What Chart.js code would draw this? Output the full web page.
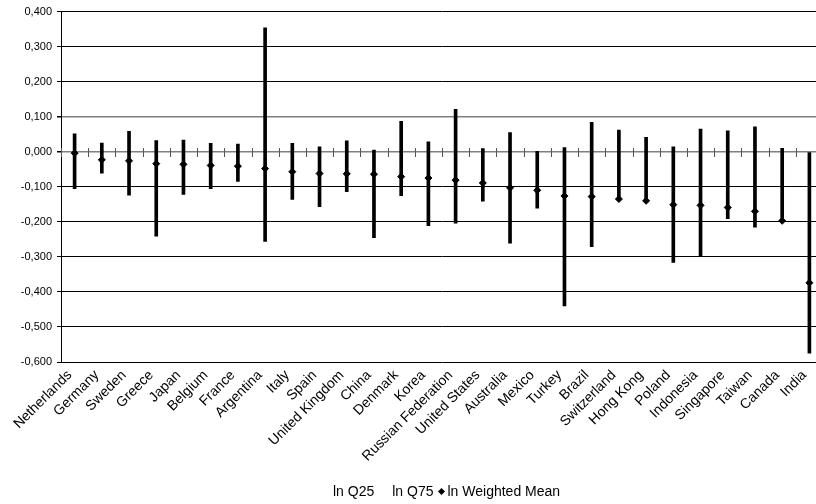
<!DOCTYPE html>
<html>
<head>
<meta charset="utf-8">
<script src="https://cdn.jsdelivr.net/npm/chart.js@4/dist/chart.umd.min.js"></script>
<style>
  html, body { margin: 0; padding: 0; background: #fff; overflow: hidden; }
  #wrap { position: relative; width: 830px; height: 504px; }
  #legend {
    position: absolute; left: 333px; top: 483px;
    font: 14px "Liberation Sans", Arial, sans-serif; color: #000;
    display: flex; align-items: center; white-space: nowrap;
  }
  #legend .dia {
    display: inline-block; width: 5px; height: 5px; background: #000;
    transform: rotate(45deg); margin: 0 4px 0 5px;
  }
</style>
</head>
<body>
<div id="wrap">
  <canvas id="chart" width="830" height="504"></canvas>
  <div id="legend">
    <span>ln Q25</span>
    <span style="margin-left:18px">ln Q75</span>
    <span class="dia"></span>
    <span>ln Weighted Mean</span>
  </div>
</div>
<script>
// Categories and series
const countries = ['Netherlands', 'Germany', 'Sweden', 'Greece', 'Japan', 'Belgium', 'France',
    'Argentina', 'Italy', 'Spain', 'United Kingdom', 'China', 'Denmark', 'Korea',
    'Russian Federation', 'United States', 'Australia', 'Mexico', 'Turkey', 'Brazil',
    'Switzerland', 'Hong Kong', 'Poland', 'Indonesia', 'Singapore', 'Taiwan', 'Canada', 'India'];

const lnQ25 = [-0.105, -0.061, -0.124, -0.241, -0.122, -0.105, -0.085, -0.256, -0.136, -0.157,
    -0.114, -0.245, -0.125, -0.211, -0.204, -0.141, -0.261, -0.161, -0.440, -0.271,
    -0.135, -0.141, -0.316, -0.299, -0.191, -0.215, -0.198, -0.575];

const lnQ75 = [0.051, 0.025, 0.058, 0.032, 0.033, 0.024, 0.022, 0.354, 0.024, 0.014,
    0.031, 0.005, 0.087, 0.028, 0.121, 0.009, 0.055, 0.001, 0.012, 0.084,
    0.062, 0.041, 0.014, 0.065, 0.060, 0.071, 0.010, 0.000];

const lnMean = [-0.004, -0.023, -0.026, -0.034, -0.036, -0.039, -0.041, -0.048, -0.057, -0.062,
    -0.063, -0.064, -0.071, -0.075, -0.081, -0.089, -0.103, -0.110, -0.126, -0.128,
    -0.135, -0.140, -0.151, -0.153, -0.159, -0.170, -0.197, -0.374];

const yMin = -0.6, yMax = 0.4, yStep = 0.1;

Chart.defaults.font.family = '"Liberation Sans", Arial, sans-serif';
Chart.defaults.color = '#000';

// cross tick marks on the zero line, at category boundaries
const zeroTicks = {
    id: 'zeroTicks',
    beforeDatasetsDraw(chart) {
        const ctx = chart.ctx, x = chart.scales.x, y = chart.scales.y;
        const y0 = Math.round(y.getPixelForValue(0));
        ctx.save();
        ctx.strokeStyle = '#555';
        ctx.lineWidth = 1;
        ctx.beginPath();
        for (let i = 0; i <= countries.length; i++) {
            const px = Math.round(x.getPixelForValue(i - 0.5)) + 0.5;
            ctx.moveTo(px, y0 - 4);
            ctx.lineTo(px, y0 + 5);
        }
        ctx.stroke();
        ctx.restore();
    }
};

function isGrey(v) {
    return Math.abs(v) < 1e-9 || Math.abs(v - 0.1) < 1e-9;
}

new Chart(document.getElementById('chart'), {
    type: 'bar',
    data: {
        labels: countries,
        datasets: [{
            type: 'line',
            label: 'ln Weighted Mean',
            data: lnMean,
            showLine: false,
            pointStyle: 'rectRot',
            pointRadius: 3.5,
            pointBackgroundColor: '#000',
            pointBorderColor: '#000',
            pointBorderWidth: 1
        }, {
            label: 'ln Q25 - ln Q75',
            data: lnQ25.map((v, i) => [v, lnQ75[i]]),
            backgroundColor: '#000',
            barThickness: 3,
            borderSkipped: false
        }]
    },
    options: {
        responsive: false,
        animation: false,
        layout: { padding: { top: 11, right: 7, left: 0, bottom: 0 } },
        plugins: { legend: { display: false }, tooltip: { enabled: false } },
        scales: {
            x: {
                grid: { display: false, drawTicks: false },
                border: { display: false },
                ticks: {
                    autoSkip: false, maxRotation: 45, minRotation: 45,
                    font: { size: 14 }, padding: 5, labelOffset: -5
                },
                afterFit: s => { s.height = 142; }
            },
            y: {
                min: yMin, max: yMax,
                ticks: {
                    stepSize: yStep,
                    font: { size: 11 },
                    padding: 5,
                    callback: v => {
                        const n = Math.abs(v) < 1e-9 ? 0 : v;
                        return n.toFixed(3).replace('.', ',');
                    }
                },
                grid: {
                    color: c => isGrey(c.tick.value) ? '#808080' : '#000',
                    lineWidth: c => isGrey(c.tick.value) ? 1.5 : 1,
                    tickLength: 4,
                    tickColor: '#000'
                },
                border: { display: true, color: '#000', width: 1 },
                afterFit: s => { s.width = 61; }
            }
        }
    },
    plugins: [zeroTicks]
});
</script>
</body>
</html>
